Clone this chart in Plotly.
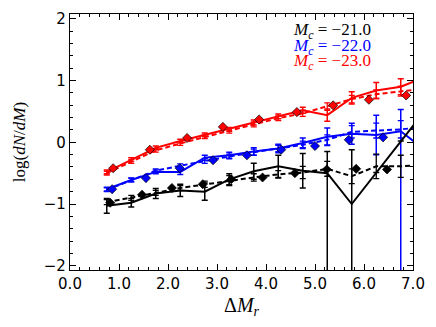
import plotly.graph_objects as go

# bin centres shared by the model curves
xs = [0.75, 1.25, 1.75, 2.25, 2.75, 3.25, 3.75, 4.25, 4.75, 5.25, 5.75, 6.25, 6.75, 7.25]

# M_c = -23.0 (red)
red_solid = [-0.48, -0.28, -0.09, 0.02, 0.12, 0.21, 0.32, 0.42, 0.52, 0.44, 0.72, 0.84, 0.90, 1.06]
red_solid_err = [0.03, 0.03, 0.03, 0.03, 0.03, 0.03, 0.04, 0.04, 0.05, 0.10, 0.10, 0.13, 0.13, 0.20]
red_dash = [-0.50, -0.31, -0.13, -0.02, 0.09, 0.19, 0.29, 0.39, 0.47, 0.58, 0.70, 0.78, 0.83, 0.87]
red_dash_err = [0.03, 0.03, 0.03, 0.03, 0.03, 0.04, 0.04, 0.04, 0.05, 0.06, 0.06, 0.07, 0.08, 0.10]
red_pts_x = [0.88, 1.63, 2.39, 3.12, 3.86, 4.63, 5.37, 6.10, 6.86]
red_pts_y = [-0.42, -0.12, 0.07, 0.25, 0.37, 0.49, 0.60, 0.69, 0.76]

# M_c = -22.0 (blue)
blue_solid = [-0.76, -0.61, -0.48, -0.48, -0.25, -0.21, -0.15, -0.10, -0.01, 0.09, 0.14, 0.12, 0.18, -0.13]
blue_solid_up = [0.03, 0.03, 0.03, 0.04, 0.04, 0.05, 0.06, 0.07, 0.08, 0.14, 0.17, 0.32, 0.35, 0.30]
blue_solid_dn = [0.03, 0.03, 0.03, 0.04, 0.04, 0.05, 0.06, 0.07, 0.08, 0.14, 0.17, 0.32, 5.0, 0.30]
blue_dash = [-0.77, -0.61, -0.46, -0.38, -0.30, -0.23, -0.16, -0.10, -0.04, 0.04, 0.17, 0.19, 0.21, 0.25]
blue_dash_err = [0.03, 0.03, 0.03, 0.03, 0.04, 0.04, 0.05, 0.05, 0.06, 0.08, 0.10, 0.12, 0.14, 0.16]
blue_pts_x = [0.86, 1.55, 2.24, 2.92, 3.61, 4.31, 5.00, 5.69, 6.39]
blue_pts_y = [-0.76, -0.58, -0.42, -0.29, -0.21, -0.12, -0.06, 0.04, 0.08]

# M_c = -21.0 (black)
black_solid = [-1.03, -0.98, -0.83, -0.78, -0.80, -0.60, -0.47, -0.39, -0.46, -0.50, -1.00, -0.49, 0.02, 0.52]
black_solid_up = [0.12, 0.07, 0.08, 0.10, 0.14, 0.09, 0.13, 0.18, 0.28, 0.35, 0.88, 0.0, 0.0, 0.0]
black_solid_dn = [0.12, 0.07, 0.08, 0.10, 0.14, 0.09, 0.13, 0.18, 0.28, 5.0, 5.0, 0.0, 0.0, 0.0]
black_dash = [-0.97, -0.90, -0.82, -0.74, -0.68, -0.62, -0.57, -0.52, -0.49, -0.43, -0.55, -0.39, -0.39, -0.36]
black_dash_err = [0.04, 0.04, 0.04, 0.04, 0.05, 0.08, 0.06, 0.06, 0.10, 0.12, 0.12, 0.20, 0.18, 0.20]
black_pts_x = [0.82, 1.47, 2.08, 2.71, 3.29, 3.93, 4.59, 5.24, 5.84, 6.47]
black_pts_y = [-0.98, -0.85, -0.74, -0.68, -0.60, -0.57, -0.50, -0.44, -0.43, -0.44]

labels = ["\u221221.0", "\u221222.0", "\u221223.0"]

fig = go.Figure()


def add_set(color, solid, up, dn, dash, dash_err, px, py):
    fig.add_trace(go.Scatter(
        x=xs, y=dash, mode="lines",
        line=dict(color=color, width=2, dash="5px,3px"),
        error_y=dict(type="data", array=dash_err, color=color, thickness=1.3, width=3),
    ))
    fig.add_trace(go.Scatter(
        x=xs, y=solid, mode="lines",
        line=dict(color=color, width=2),
        error_y=dict(type="data", symmetric=False, array=up, arrayminus=dn,
                     color=color, thickness=1.5, width=3),
    ))
    fig.add_trace(go.Scatter(
        x=px, y=py, mode="markers",
        marker=dict(symbol="diamond", size=7, color=color,
                    line=dict(color="black", width=0.7)),
    ))


add_set("#ff0000", red_solid, red_solid_err, red_solid_err, red_dash, red_dash_err, red_pts_x, red_pts_y)
add_set("#0000ff", blue_solid, blue_solid_up, blue_solid_dn, blue_dash, blue_dash_err, blue_pts_x, blue_pts_y)
add_set("black", black_solid, black_solid_up, black_solid_dn, black_dash, black_dash_err, black_pts_x, black_pts_y)

# legend-like labels
for lab, col, yp in zip(labels, ["black", "#0000ff", "#ff0000"], [0.935, 0.873, 0.812]):
    fig.add_annotation(
        x=0.645, y=yp, xref="paper", yref="paper", xanchor="left", yanchor="middle",
        text="<i>M</i><sub><i>c</i></sub> = " + lab, showarrow=False,
        font=dict(family="Liberation Serif", size=17, color=col),
    )

# axis titles
fig.add_annotation(
    x=-0.148, y=0.5, xref="paper", yref="paper", textangle=-90, showarrow=False,
    xanchor="center", yanchor="middle",
    text="log(<i>dN</i>/<i>dM</i>)", font=dict(family="Liberation Serif", size=17, color="black"),
)
fig.add_annotation(
    x=0.5, y=-0.085, xref="paper", yref="paper", showarrow=False,
    xanchor="center", yanchor="top",
    text="\u0394<i>M</i><sub><i>r</i></sub>", font=dict(family="Liberation Serif", size=20, color="black"),
)

axis_common = dict(
    showline=True, linecolor="black", linewidth=1.2, mirror="ticks",
    ticks="inside", ticklen=6, tickwidth=1, tickcolor="black",
    showgrid=False, zeroline=False,
    tickfont=dict(family="DejaVu Sans", size=15, color="black"),
    minor=dict(ticks="inside", ticklen=3, tickcolor="black", dtick=0.2, showgrid=False),
)

fig.update_xaxes(range=[0, 7], dtick=1, tick0=0, tickformat=".1f", **axis_common)
fig.update_yaxes(range=[-2.07, 2.08], dtick=1, tick0=0, **axis_common)

fig.update_layout(
    width=436, height=327,
    margin=dict(l=70, r=23, t=10, b=57),
    plot_bgcolor="white", paper_bgcolor="white",
    showlegend=False,
)

fig.write_html("out.html", config={"displayModeBar": False},
               post_script="document.body.style.margin='0';")
